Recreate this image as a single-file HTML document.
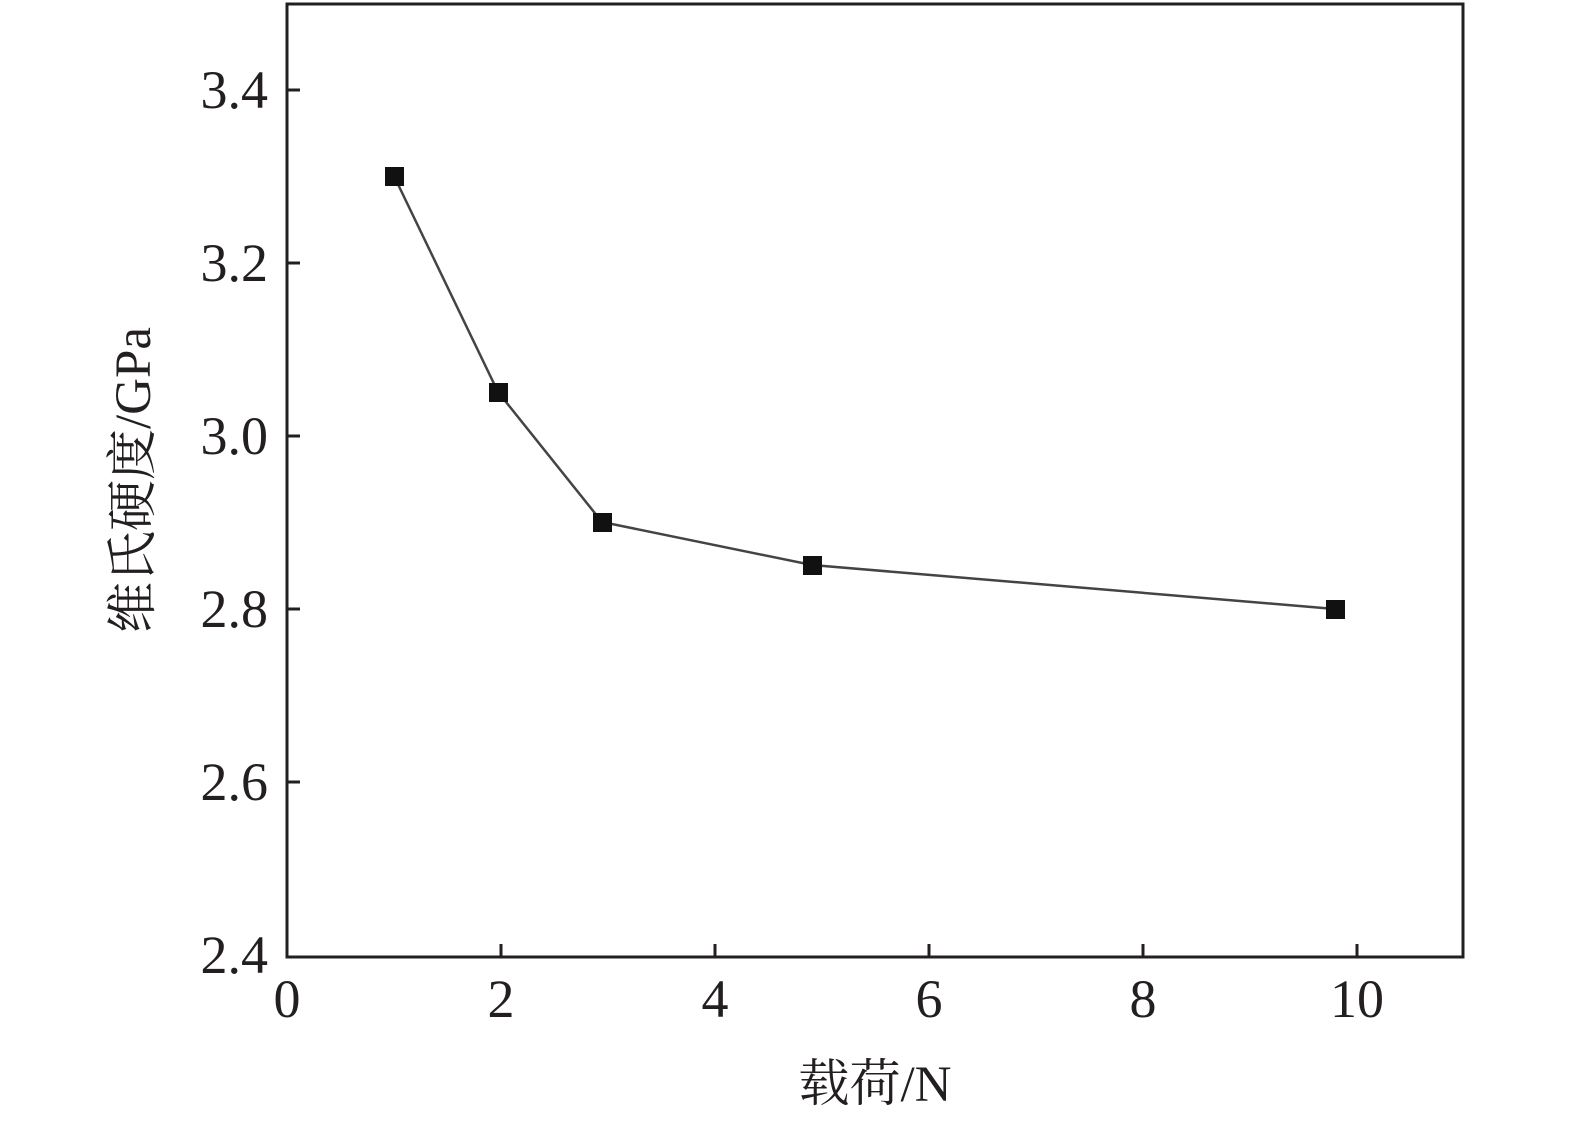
<!DOCTYPE html>
<html><head><meta charset="utf-8"><style>body{margin:0;background:#fff}</style></head>
<body>
<svg width="1575" height="1128" xmlns="http://www.w3.org/2000/svg" font-family="'Liberation Serif','Noto Serif CJK SC',serif" fill="#231f20">
<rect x="287" y="4" width="1176" height="953" fill="none" stroke="#231f20" stroke-width="3"/>
<g stroke="#231f20" stroke-width="3">
<line x1="287" y1="90" x2="300" y2="90"/><line x1="287" y1="263" x2="300" y2="263"/><line x1="287" y1="436" x2="300" y2="436"/><line x1="287" y1="609" x2="300" y2="609"/><line x1="287" y1="782" x2="300" y2="782"/>
<line x1="501" y1="957" x2="501" y2="944"/><line x1="715" y1="957" x2="715" y2="944"/><line x1="929" y1="957" x2="929" y2="944"/><line x1="1143" y1="957" x2="1143" y2="944"/><line x1="1357" y1="957" x2="1357" y2="944"/>
</g>
<g font-size="54" text-anchor="end">
<text x="268" y="108">3.4</text><text x="268" y="281">3.2</text><text x="268" y="454">3.0</text><text x="268" y="627">2.8</text><text x="268" y="800">2.6</text><text x="268" y="973">2.4</text>
</g>
<g font-size="54" text-anchor="middle">
<text x="287" y="1017">0</text><text x="501" y="1017">2</text><text x="715" y="1017">4</text><text x="929" y="1017">6</text><text x="1143" y="1017">8</text><text x="1357" y="1017">10</text>
</g>
<text x="875" y="1101" font-size="51" text-anchor="middle">载荷/N</text>
<text transform="translate(150,480) rotate(-90)" font-size="51" text-anchor="middle">维氏硬度/GPa</text>
<polyline points="394,176 498,392 602,522 812,565 1335,609" fill="none" stroke="#444" stroke-width="2.5"/>
<g fill="#111">
<rect x="385" y="167" width="19" height="19"/><rect x="489" y="383" width="19" height="19"/><rect x="593" y="513" width="19" height="19"/><rect x="803" y="556" width="19" height="19"/><rect x="1326" y="600" width="19" height="19"/>
</g>
</svg>
</body></html>
